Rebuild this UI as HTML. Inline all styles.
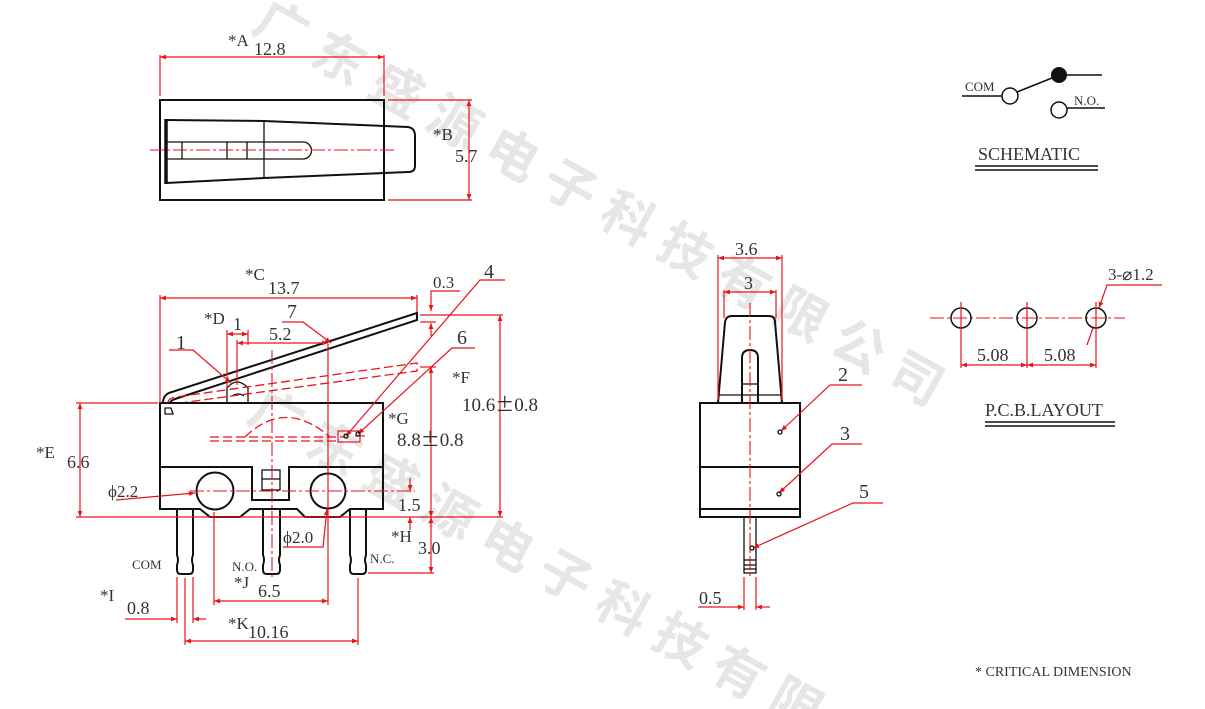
<!DOCTYPE html>
<html><head><meta charset="utf-8"><style>
html,body{margin:0;padding:0;background:#fff;width:1205px;height:709px;overflow:hidden}
svg{display:block}
text{font-family:"Liberation Serif",serif;fill:#333}
.pm{font-family:"Noto Sans CJK SC",sans-serif}
.k{stroke:#111;stroke-width:2;fill:none}
.k1{stroke:#111;stroke-width:1.3;fill:none}
.r{stroke:#e8141c;stroke-width:1.2;fill:none}
.rd{stroke:#e8141c;stroke-width:1.3;fill:none;stroke-dasharray:9 4}
.rc{stroke:#e8141c;stroke-width:1.1;fill:none;stroke-dasharray:14 3 3 3}
.wm{font-family:"Noto Sans CJK SC",sans-serif;fill:#e6e6e6;font-size:52px;font-weight:bold}
</style></head><body>
<svg width="1205" height="709" viewBox="0 0 1205 709" xmlns="http://www.w3.org/2000/svg">
<defs>
<marker id="a" viewBox="0 0 10 10" refX="10" refY="5" markerWidth="9" markerHeight="6" orient="auto-start-reverse" markerUnits="userSpaceOnUse"><path d="M0,1 L10,5 L0,9 z" fill="#e8141c"/></marker>
<clipPath id="cl"><rect x="0" y="0" width="1205" height="709"/></clipPath>
</defs>
<g clip-path="url(#cl)">
<text class="wm" transform="translate(250,30) rotate(29)" letter-spacing="14">广东盛源电子科技有限公司</text>
<text class="wm" transform="translate(245,420) rotate(29)" letter-spacing="14">广东盛源电子科技有限</text>
</g>

<!-- TOP VIEW -->
<rect x="160" y="100" width="224" height="100" class="k"/>
<path class="k" d="M166,120 L264,121 L408,127 Q415,128 415,136 L415,166 Q415,172 408,172 L264,178 L166,183"/>
<line x1="166" y1="119" x2="166" y2="184" stroke="#111" stroke-width="3.5"/>
<line x1="264" y1="121" x2="264" y2="178" class="k1"/>
<path class="k1" d="M166,142 L303,142 A8.5,8.5 0 0 1 303,159 L166,159"/>
<line x1="182" y1="142" x2="182" y2="159" class="k1"/>
<line x1="227" y1="142" x2="227" y2="159" class="k1"/>
<line x1="247" y1="142" x2="247" y2="159" class="k1"/>
<line x1="150" y1="150" x2="395" y2="150" class="rc"/>
<line x1="160" y1="55" x2="160" y2="96" class="r"/>
<line x1="384" y1="55" x2="384" y2="96" class="r"/>
<line x1="160" y1="57" x2="384" y2="57" class="r" marker-start="url(#a)" marker-end="url(#a)"/>
<text x="228" y="46" font-size="17">*A</text><text x="254" y="55" font-size="18">12.8</text>
<line x1="388" y1="100" x2="472" y2="100" class="r"/>
<line x1="388" y1="200" x2="472" y2="200" class="r"/>
<line x1="469" y1="100" x2="469" y2="200" class="r" marker-start="url(#a)" marker-end="url(#a)"/>
<text x="433" y="140" font-size="17">*B</text><text x="455" y="162" font-size="18">5.7</text>

<!-- FRONT VIEW -->
<path class="k" d="M163,403 Q163,394 172,392 L417,313 L417,320 L175,399 Q170,401 170,403"/>
<path class="k1" d="M227,403 L227,388 Q237,376 248,388 L248,403"/>
<path class="k1" d="M232,396 Q238,392 244,396"/>
<path class="rd" d="M168,403 Q168,398 176,397 L417,363 L417,371 L180,403"/>
<rect x="160" y="403" width="223" height="106" class="k" fill="none"/>
<path class="k" d="M160,467 L252,467 L252,500 L289,500 L289,467 L383,467"/>
<path fill="#fff" stroke="none" d="M198,508 L382,508 L382,520 L198,520 z"/>
<path class="k" d="M160,509 L200,509 L210,517 L240,517 L250,509 L297,509 L305,517 L340,517 L350,509 L383,509"/>
<rect x="262" y="470" width="18" height="20" class="k1"/>
<line x1="262" y1="479" x2="280" y2="479" class="k1"/>
<circle cx="215" cy="491" r="18.5" class="k"/>
<circle cx="328" cy="491" r="17.5" class="k"/>
<path class="k1" d="M165,408 L171,408 L173,414 L165,414 z"/>
<path class="k" d="M177,509 L177,555 Q179,560 177,565 L177,570 Q177,574 181,574 L189,574 Q193,574 193,570 L193,565 Q191,560 193,555 L193,509"/>
<path class="k" d="M263,509 L263,555 Q265,560 263,565 L263,570 Q263,574 267,574 L276,574 Q280,574 280,570 L280,565 Q278,560 280,555 L280,509"/>
<path class="k" d="M350,509 L350,555 Q352,560 350,565 L350,570 Q350,574 354,574 L362,574 Q366,574 366,570 L366,565 Q364,560 366,555 L366,509"/>
<path class="rd" d="M245,437 Q285,398 330,437"/>
<path class="rd" d="M210,437 L345,437 M210,441 L340,441"/>
<rect x="338" y="431" width="22" height="11" class="r"/>
<line x1="355" y1="436" x2="365" y2="436" class="r"/>
<line x1="272" y1="350" x2="272" y2="578" class="rc"/>
<line x1="190" y1="491" x2="415" y2="491" class="rc"/>
<line x1="328" y1="344" x2="328" y2="605" class="r"/>
<line x1="160" y1="295" x2="160" y2="403" class="r"/>
<line x1="417" y1="295" x2="417" y2="312" class="r"/>
<line x1="160" y1="298" x2="417" y2="298" class="r" marker-start="url(#a)" marker-end="url(#a)"/>
<text x="245" y="280" font-size="17">*C</text><text x="268" y="294" font-size="18">13.7</text>
<line x1="227" y1="330" x2="227" y2="388" class="r"/>
<line x1="248" y1="330" x2="248" y2="345" class="r"/>
<line x1="237" y1="340" x2="237" y2="385" class="r"/>
<line x1="227" y1="334" x2="248" y2="334" class="r" marker-start="url(#a)" marker-end="url(#a)"/>
<line x1="237" y1="343" x2="328" y2="343" class="r" marker-start="url(#a)" marker-end="url(#a)"/>
<text x="204" y="324" font-size="17">*D</text><text x="233" y="330" font-size="18">1</text>
<text x="269" y="340" font-size="18">5.2</text>
<text x="176" y="349" font-size="20">1</text>
<polyline class="r" points="169,350 193,350 231,383" marker-end="url(#a)"/>
<text x="287" y="318" font-size="20">7</text>
<polyline class="r" points="282,322 303,322 331,343" marker-end="url(#a)"/>
<text x="484" y="278" font-size="20">4</text>
<polyline class="r" points="505,280 480,280 346,436" marker-end="url(#a)"/>
<text x="457" y="344" font-size="20">6</text>
<polyline class="r" points="475,348 452,348 358,434" marker-end="url(#a)"/>
<circle cx="346" cy="436" r="2" class="k1"/><circle cx="358" cy="434" r="2" class="k1"/>
<line x1="420" y1="315" x2="503" y2="315" class="r"/>
<line x1="420" y1="322" x2="436" y2="322" class="r"/>
<line x1="420" y1="367" x2="436" y2="367" class="r"/>
<polyline class="r" points="460,291 431,291 431,311" marker-end="url(#a)"/>
<line x1="431" y1="336" x2="431" y2="323" class="r" marker-end="url(#a)"/>
<text x="433" y="288" font-size="17">0.3</text>
<line x1="431" y1="367" x2="431" y2="517" class="r" marker-start="url(#a)" marker-end="url(#a)"/>
<line x1="500" y1="315" x2="500" y2="517" class="r" marker-start="url(#a)" marker-end="url(#a)"/>
<text x="452" y="383" font-size="17">*F</text><text x="462" y="411" font-size="19">10.6<tspan class="pm">±</tspan>0.8</text>
<text x="388" y="424" font-size="17">*G</text><text x="397" y="446" font-size="19">8.8<tspan class="pm">±</tspan>0.8</text>
<line x1="76" y1="517" x2="503" y2="517" class="r"/>
<line x1="410" y1="478" x2="410" y2="491" class="r" marker-end="url(#a)"/>
<line x1="410" y1="530" x2="410" y2="517" class="r" marker-end="url(#a)"/>
<text x="398" y="511" font-size="18">1.5</text>
<line x1="431" y1="517" x2="431" y2="573" class="r" marker-start="url(#a)" marker-end="url(#a)"/>
<line x1="368" y1="573" x2="434" y2="573" class="r"/>
<text x="391" y="542" font-size="17">*H</text><text x="418" y="554" font-size="18">3.0</text>
<line x1="76" y1="403" x2="158" y2="403" class="r"/>
<line x1="80" y1="403" x2="80" y2="517" class="r" marker-start="url(#a)" marker-end="url(#a)"/>
<text x="36" y="458" font-size="17">*E</text><text x="67" y="468" font-size="18">6.6</text>
<text x="108" y="497" font-size="17">ϕ2.2</text>
<polyline class="r" points="116,500 195,493" marker-end="url(#a)"/>
<text x="283" y="543" font-size="17">ϕ2.0</text>
<polyline class="r" points="283,547 323,547 327,509" marker-end="url(#a)"/>
<text x="132" y="569" font-size="13">COM</text>
<text x="232" y="571" font-size="13">N.O.</text>
<text x="370" y="563" font-size="13">N.C.</text>
<line x1="214" y1="512" x2="214" y2="605" class="r"/>
<line x1="214" y1="601" x2="328" y2="601" class="r" marker-start="url(#a)" marker-end="url(#a)"/>
<text x="234" y="588" font-size="17">*J</text><text x="258" y="597" font-size="18">6.5</text>
<line x1="177" y1="577" x2="177" y2="623" class="r"/>
<line x1="193" y1="577" x2="193" y2="623" class="r"/>
<line x1="125" y1="619" x2="177" y2="619" class="r" marker-end="url(#a)"/>
<line x1="206" y1="619" x2="193" y2="619" class="r" marker-end="url(#a)"/>
<text x="100" y="601" font-size="17">*I</text><text x="127" y="614" font-size="18">0.8</text>
<line x1="185" y1="578" x2="185" y2="645" class="r"/>
<line x1="358" y1="578" x2="358" y2="645" class="r"/>
<line x1="185" y1="641" x2="358" y2="641" class="r" marker-start="url(#a)" marker-end="url(#a)"/>
<text x="228" y="629" font-size="17">*K</text><text x="248" y="638" font-size="18">10.16</text>

<!-- SIDE VIEW -->
<path class="k" d="M718,403 L725,322 Q726,316 732,316 L769,316 Q775,316 775,322 L782,403"/>
<line x1="718" y1="395" x2="782" y2="395" class="k1"/>
<path class="k" d="M742,403 L742,358 Q742,350 750,350 Q758,350 758,358 L758,403"/>
<line x1="742" y1="384" x2="758" y2="384" class="k1"/>
<rect x="700" y="403" width="100" height="114" class="k"/>
<line x1="700" y1="467" x2="800" y2="467" class="k"/>
<line x1="700" y1="509" x2="800" y2="509" class="k"/>
<rect x="744" y="517" width="12" height="56" class="k1"/>
<line x1="744" y1="560" x2="756" y2="560" class="k1"/>
<line x1="744" y1="565" x2="756" y2="565" class="k1"/>
<line x1="744" y1="569" x2="756" y2="569" class="k1"/>
<line x1="750" y1="303" x2="750" y2="578" class="rc"/>
<line x1="718" y1="255" x2="718" y2="400" class="r"/>
<line x1="782" y1="255" x2="782" y2="400" class="r"/>
<line x1="724" y1="290" x2="724" y2="318" class="r"/>
<line x1="776" y1="290" x2="776" y2="318" class="r"/>
<line x1="718" y1="258" x2="782" y2="258" class="r" marker-start="url(#a)" marker-end="url(#a)"/>
<line x1="724" y1="292" x2="776" y2="292" class="r" marker-start="url(#a)" marker-end="url(#a)"/>
<text x="735" y="255" font-size="18">3.6</text>
<text x="744" y="289" font-size="18">3</text>
<text x="838" y="381" font-size="20">2</text>
<polyline class="r" points="862,385 830,385 781,431" marker-end="url(#a)"/>
<circle cx="780" cy="432" r="2" class="k1"/>
<text x="840" y="440" font-size="20">3</text>
<polyline class="r" points="862,444 832,444 779,493" marker-end="url(#a)"/>
<circle cx="779" cy="494" r="2" class="k1"/>
<text x="859" y="498" font-size="20">5</text>
<polyline class="r" points="883,503 853,503 753,548" marker-end="url(#a)"/>
<circle cx="752" cy="548" r="2" class="k1"/>
<line x1="744" y1="577" x2="744" y2="610" class="r"/>
<line x1="756" y1="577" x2="756" y2="610" class="r"/>
<line x1="698" y1="607" x2="744" y2="607" class="r" marker-end="url(#a)"/>
<line x1="770" y1="607" x2="756" y2="607" class="r" marker-end="url(#a)"/>
<text x="699" y="604" font-size="18">0.5</text>

<!-- SCHEMATIC -->
<text x="965" y="91" font-size="13">COM</text>
<line x1="962" y1="96" x2="1002" y2="96" stroke="#111" stroke-width="1.5"/>
<circle cx="1010" cy="96" r="8" stroke="#111" stroke-width="1.5" fill="#fff"/>
<line x1="1017" y1="92" x2="1052" y2="78" stroke="#111" stroke-width="1.5"/>
<circle cx="1059" cy="75" r="8" fill="#111"/>
<line x1="1067" y1="75" x2="1102" y2="75" stroke="#111" stroke-width="1.5"/>
<circle cx="1059" cy="110" r="8" stroke="#111" stroke-width="1.5" fill="#fff"/>
<line x1="1067" y1="108" x2="1105" y2="108" stroke="#111" stroke-width="1.5"/>
<text x="1074" y="105" font-size="13">N.O.</text>
<text x="978" y="160" font-size="18">SCHEMATIC</text>
<line x1="975" y1="166" x2="1098" y2="166" stroke="#111" stroke-width="1.5"/>
<line x1="975" y1="170" x2="1098" y2="170" stroke="#111" stroke-width="1.5"/>

<!-- PCB -->
<line x1="930" y1="318" x2="1125" y2="318" class="rc"/>
<circle cx="961" cy="318" r="10" stroke="#111" stroke-width="1.5" fill="none"/>
<circle cx="1027" cy="318" r="10" stroke="#111" stroke-width="1.5" fill="none"/>
<circle cx="1096" cy="318" r="10" stroke="#111" stroke-width="1.5" fill="none"/>
<line x1="961" y1="302" x2="961" y2="368" class="r"/>
<line x1="1027" y1="302" x2="1027" y2="368" class="r"/>
<line x1="1096" y1="302" x2="1096" y2="368" class="r"/>
<line x1="961" y1="365" x2="1027" y2="365" class="r" marker-start="url(#a)" marker-end="url(#a)"/>
<line x1="1027" y1="365" x2="1096" y2="365" class="r" marker-start="url(#a)" marker-end="url(#a)"/>
<text x="977" y="361" font-size="18">5.08</text>
<text x="1044" y="361" font-size="18">5.08</text>
<polyline class="r" points="1162,285 1107,285 1099,308" marker-end="url(#a)"/>
<line x1="1093" y1="328" x2="1087" y2="345" class="r"/>
<text x="1108" y="280" font-size="17">3-⌀1.2</text>
<text x="985" y="416" font-size="18">P.C.B.LAYOUT</text>
<line x1="985" y1="422" x2="1115" y2="422" stroke="#111" stroke-width="1.5"/>
<line x1="985" y1="426" x2="1115" y2="426" stroke="#111" stroke-width="1.5"/>

<text x="975" y="676" font-size="14">* CRITICAL  DIMENSION</text>
</svg>
</body></html>
